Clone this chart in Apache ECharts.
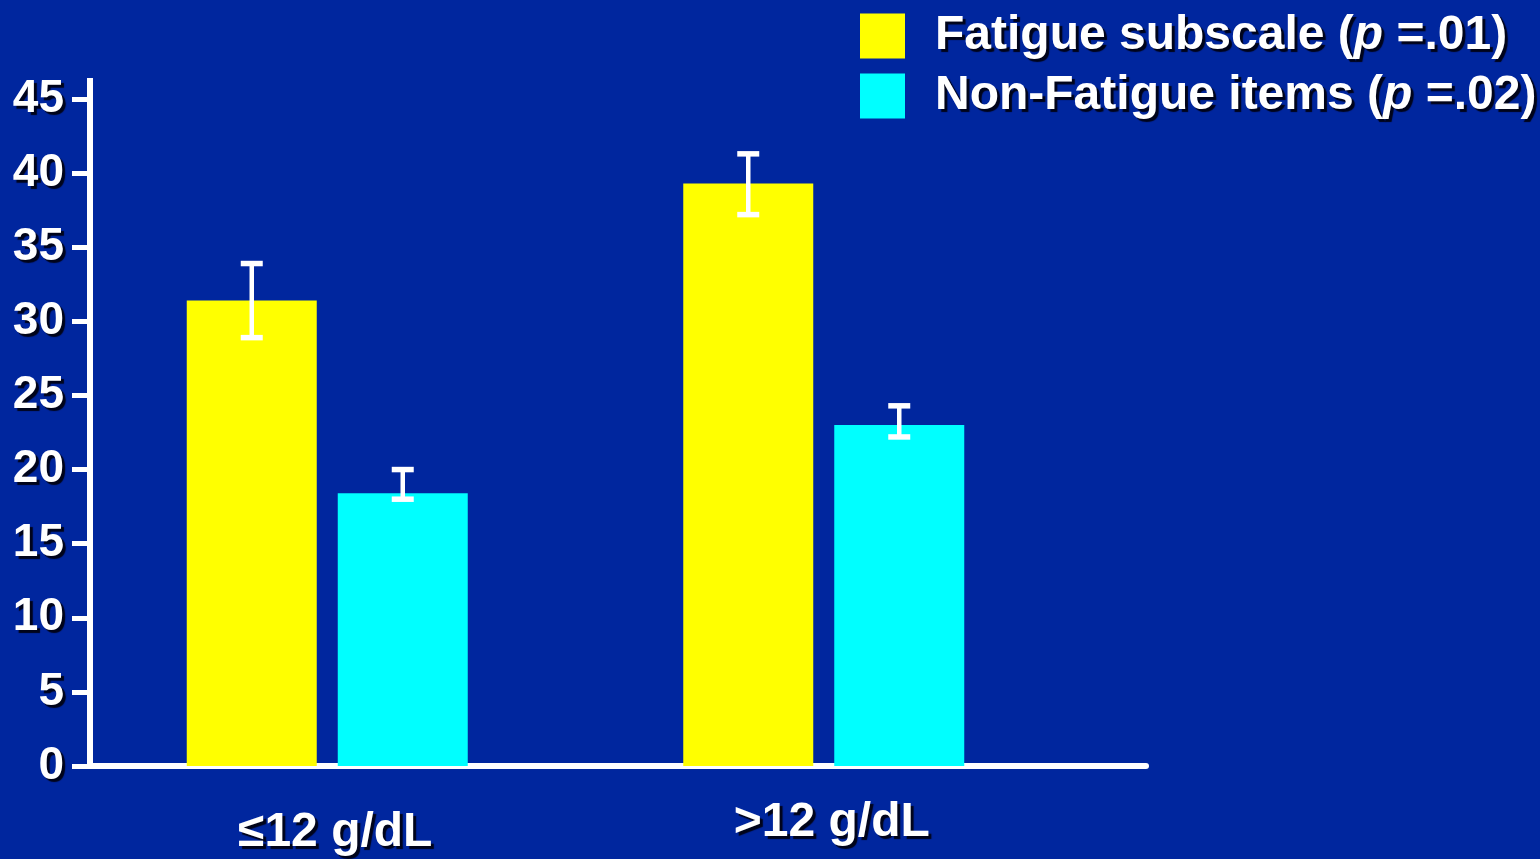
<!DOCTYPE html>
<html>
<head>
<meta charset="utf-8">
<script src="https://cdn.jsdelivr.net/npm/echarts@6/dist/echarts.min.js"></script>
<style>
html,body{margin:0;padding:0;background:#00269e;}
#chart{width:1540px;height:859px;}
</style>
</head>
<body>
<div id="chart"></div>
<script>
const categories = ['≤12 g/dL', '>12 g/dL'];
const seriesNames = ['Fatigue subscale (p =.01)', 'Non-Fatigue items (p =.02)'];
const fatigue = [31.4, 39.3];
const fatigueUpper = [33.9, 41.3];
const fatigueLower = [28.9, 37.2];
const nonFatigue = [18.4, 23.0];
const nonFatigueUpper = [20.0, 24.3];
const nonFatigueLower = [18.0, 22.2];
const yTicks = [0, 5, 10, 15, 20, 25, 30, 35, 40, 45];

const shadow = {textShadowColor: '#00041a', textShadowOffsetX: 3, textShadowOffsetY: 3, textShadowBlur: 1};
const BAR_W = 130, BAR_GAP = 21;
const FONT = 'Liberation Sans, Arial';

function errData(up, low) { return categories.map((c, i) => [i, low[i], up[i]]); }

function errRender(side) {
  return function (params, api) {
    const i = api.value(0);
    const lo = api.coord([i, api.value(1)]);
    const hi = api.coord([i, api.value(2)]);
    const x = lo[0] + side * (BAR_W + BAR_GAP) / 2;
    const cap = 11;
    return {type: 'group', children: [
      {type: 'line', shape: {x1: x, y1: hi[1], x2: x, y2: lo[1]}, style: {stroke: '#fff', lineWidth: 4.5}},
      {type: 'line', shape: {x1: x - cap, y1: hi[1], x2: x + cap, y2: hi[1]}, style: {stroke: '#fff', lineWidth: 5.5}},
      {type: 'line', shape: {x1: x - cap, y1: lo[1], x2: x + cap, y2: lo[1]}, style: {stroke: '#fff', lineWidth: 5.5}}
    ]};
  };
}

const chart = echarts.init(document.getElementById('chart'));
chart.setOption({
  backgroundColor: '#00269e',
  animation: false,
  legend: {
    orient: 'vertical', left: 855, top: 7,
    itemWidth: 45, itemHeight: 45, itemGap: 12, icon: 'rect',
    selectedMode: false,
    data: seriesNames,
    formatter: function (name) {
      const parts = name.split('p =');
      return '{s|}{n|' + parts[0] + '}{i|p}{n| =' + parts[1] + '}';
    },
    textStyle: {
      color: '#fff',
      rich: {
        s: {width: 25},
        n: Object.assign({fontSize: 48, fontWeight: 'bold', fontFamily: FONT, color: '#fff'}, shadow),
        i: Object.assign({fontSize: 48, fontWeight: 'bold', fontStyle: 'italic', fontFamily: FONT, color: '#fff'}, shadow)
      }
    }
  },
  grid: [
    {left: 79, width: 993, top: 99, bottom: 93},
    {left: 90, right: 394, top: 99, bottom: 93}
  ],
  xAxis: [
    {
      type: 'category', gridIndex: 0, data: categories,
      axisLine: {show: false}, axisTick: {show: false},
      axisLabel: {
        margin: 33,
        formatter: function (v, idx) { return (idx === 0 ? '{a|' : '{b|') + v + '}'; },
        rich: {
          a: Object.assign({fontSize: 48, fontWeight: 'bold', fontFamily: FONT, color: '#fff', padding: [10, 0, 0, 16]}, shadow),
          b: Object.assign({fontSize: 48, fontWeight: 'bold', fontFamily: FONT, color: '#fff', padding: [0, 0, 0, 16]}, shadow)
        }
      }
    },
    {
      type: 'value', gridIndex: 1, min: 0, max: 1,
      axisLine: {show: true, lineStyle: {color: '#fff', width: 6}},
      axisTick: {show: false}, axisLabel: {show: false}, splitLine: {show: false}
    }
  ],
  yAxis: [
    {type: 'value', gridIndex: 0, min: 0, max: 45, interval: 5, show: false},
    {
      type: 'value', gridIndex: 1, min: 0, max: 45, interval: 5,
      axisLine: {show: true, symbol: ['none', 'rect'], symbolSize: [6, 21], symbolOffset: [0, 10.5], lineStyle: {color: '#fff', width: 6}},
      axisTick: {show: true, length: 18, lineStyle: {color: '#fff', width: 5}},
      splitLine: {show: false},
      axisLabel: Object.assign({
        margin: 26, fontSize: 46, fontWeight: 'bold', fontFamily: FONT, color: '#fff',
        formatter: function (v) { return yTicks.indexOf(v) >= 0 ? String(v) : ''; }
      }, shadow)
    }
  ],
  series: [
    {name: seriesNames[0], type: 'bar', xAxisIndex: 0, yAxisIndex: 0, data: fatigue, barWidth: BAR_W, barGap: (BAR_GAP / BAR_W * 100) + '%', itemStyle: {color: '#ffff00'}},
    {name: seriesNames[1], type: 'bar', xAxisIndex: 0, yAxisIndex: 0, data: nonFatigue, barWidth: BAR_W, itemStyle: {color: '#00ffff'}},
    {type: 'custom', xAxisIndex: 0, yAxisIndex: 0, data: errData(fatigueUpper, fatigueLower), renderItem: errRender(-1), z: 5, encode: {x: 0, y: [1, 2]}},
    {type: 'custom', xAxisIndex: 0, yAxisIndex: 0, data: errData(nonFatigueUpper, nonFatigueLower), renderItem: errRender(1), z: 5, encode: {x: 0, y: [1, 2]}}
  ]
});
</script>
</body>
</html>
